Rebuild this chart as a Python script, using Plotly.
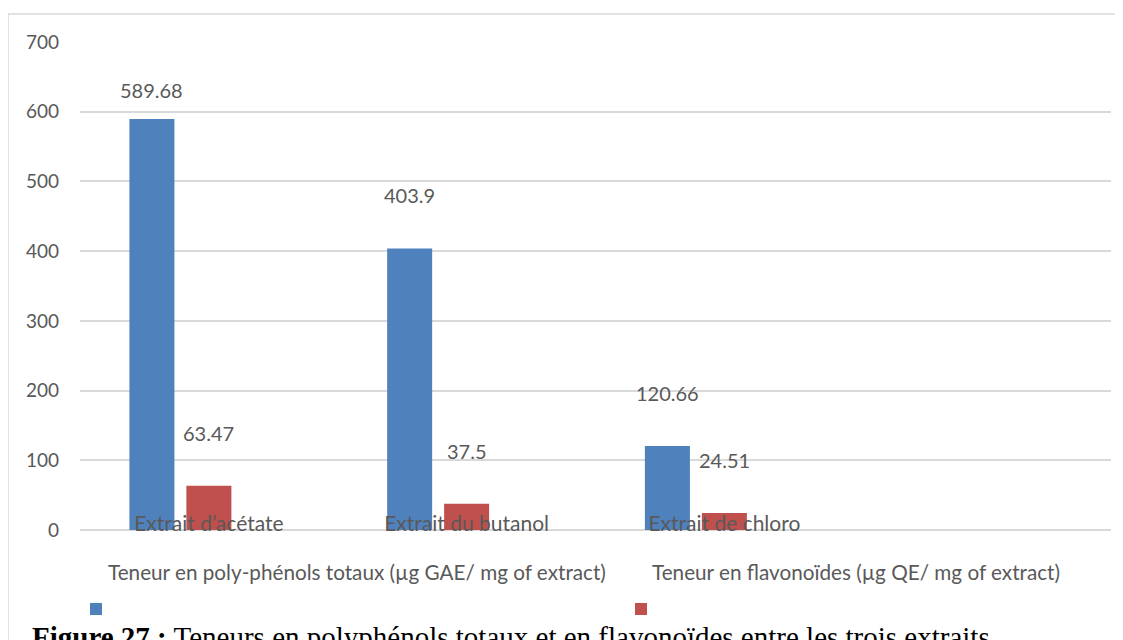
import plotly.graph_objects as go

categories = ["Extrait d’acétate", "Extrait du butanol", "Extrait de chloro", " "]
polyphenols = [589.68, 403.9, 120.66, None]
flavonoides = [63.47, 37.5, 24.51, None]
empty_series = [None, None, None, None]
series_names = ["Teneur en poly-phénols totaux (µg GAE/ mg of extract)",
                "Teneur en flavonoïdes (µg QE/ mg of extract)"]
y_ticks = [0, 100, 200, 300, 400, 500, 600, 700]
caption_bold = "Figure 27 :"
caption_text = " Teneurs en polyphénols totaux et en flavonoïdes entre les trois extraits"

BLUE = "#4F81BD"
RED = "#C0504D"
GREY_TXT = "#595959"
GRID = "#D9D9D9"
FONT = "Lato"

# page offset of the figure inside the browser window (default body margin)
O = 8
WIN_W, WIN_H = 1123, 640
W, H = WIN_W - O, WIN_H - O
# plot area in window pixels: x 80..1111, y 42..530
L = 80 - O
T = 42 - O
R = W - (1111 - O)
B = H - (530 - O)
pw, ph = W - L - R, H - T - B


def px_x(x):
    return (x - O - L) / pw


def px_y(y):
    return (H - B - (y - O)) / ph


fig = go.Figure()
fig.add_trace(go.Bar(x=categories, y=polyphenols, name=" ", marker_color=BLUE,
                     marker_line_width=0, hoverinfo="y", legend="legend"))
fig.add_trace(go.Bar(x=categories, y=flavonoides, name=" ", marker_color=RED,
                     marker_line_width=0, hoverinfo="y", legend="legend2"))
fig.add_trace(go.Bar(x=categories, y=empty_series, name="", showlegend=False,
                     marker_color="rgba(0,0,0,0)", hoverinfo="skip"))

annotations = []
for vals, xs in ((polyphenols, -57), (flavonoides, 0)):
    for c, v in zip(categories, vals):
        if v is None:
            continue
        ys = 29 if v > 550 else 53
        annotations.append(dict(x=c, y=v, xref="x", yref="y", text=f"{v:g}",
                                showarrow=False, xshift=xs, yshift=ys,
                                yanchor="middle",
                                font=dict(family=FONT, size=20, color=GREY_TXT)))

annotations.append(dict(x=px_x(106), y=px_y(572), xref="paper", yref="paper",
                        text=series_names[0], showarrow=False, xanchor="left",
                        yanchor="middle", font=dict(family=FONT, size=20.7, color=GREY_TXT)))
annotations.append(dict(x=px_x(650), y=px_y(572), xref="paper", yref="paper",
                        text=series_names[1], showarrow=False, xanchor="left",
                        yanchor="middle", font=dict(family=FONT, size=20.7, color=GREY_TXT)))
annotations.append(dict(x=px_x(30), y=px_y(619), xref="paper", yref="paper",
                        text=f"<b>{caption_bold}</b>{caption_text}",
                        showarrow=False, xanchor="left", yanchor="top",
                        font=dict(family="Liberation Serif", size=29, color="#000000")))

shapes = [
    dict(type="line", xref="paper", yref="paper", x0=px_x(8), x1=px_x(WIN_W + 5),
         y0=px_y(14), y1=px_y(14), line=dict(color=GRID, width=1.5)),
    dict(type="line", xref="paper", yref="paper", x0=px_x(8), x1=px_x(8),
         y0=px_y(14), y1=px_y(WIN_H + 5), line=dict(color=GRID, width=1.5)),
]

legend_common = dict(orientation="h", xanchor="left", yanchor="middle",
                     font=dict(size=14), bgcolor="rgba(0,0,0,0)", itemclick=False,
                     itemdoubleclick=False)

fig.update_layout(
    width=W, height=H,
    margin=dict(l=L, r=R, t=T, b=B, autoexpand=False),
    paper_bgcolor="white", plot_bgcolor="white",
    barmode="group", bargap=0.337, bargroupgap=0.21,
    font=dict(family=FONT, color=GREY_TXT, size=19),
    showlegend=True,
    legend=dict(x=px_x(76), y=px_y(609.5), **legend_common),
    legend2=dict(x=px_x(621), y=px_y(609.5), **legend_common),
    annotations=annotations,
    shapes=shapes,
)
fig.update_xaxes(type="category", showgrid=False, showline=False, ticks="",
                 ticklabelstandoff=-21,
                 tickfont=dict(family=FONT, size=21, color=GREY_TXT))
fig.update_yaxes(range=[0, 700], tickvals=y_ticks, showgrid=True, gridcolor=GRID, gridwidth=1.5,
                 zeroline=True, zerolinecolor=GRID, zerolinewidth=1.5, showline=False,
                 ticks="", ticklabelstandoff=20,
                 tickfont=dict(family=FONT, size=19, color=GREY_TXT))

fig.write_html("out.html")
